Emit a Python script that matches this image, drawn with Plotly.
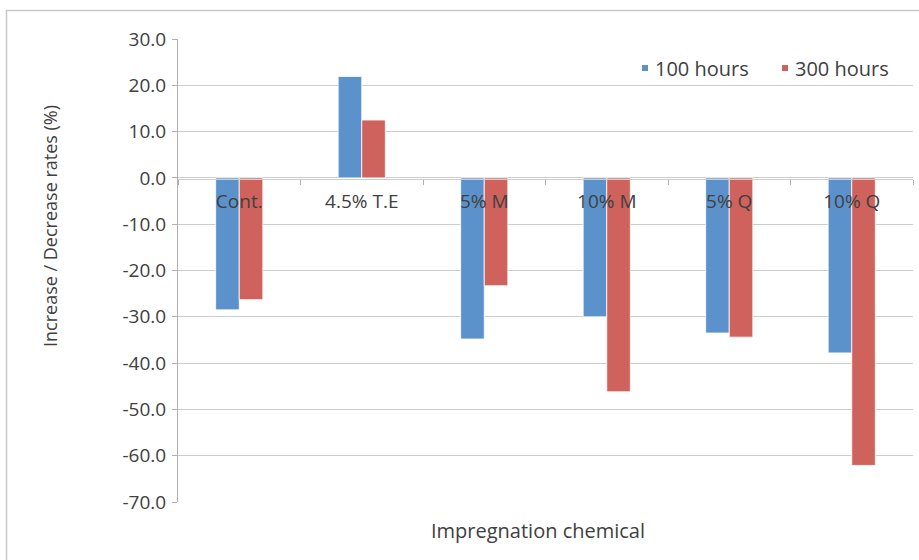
import plotly.graph_objects as go

# Impregnation treatments and the measured change after each exposure time (%)
categories = ["Cont.", "4.5% T.E", "5% M", "10% M", "5% Q", "10% Q"]
hours_100 = [-28.5, 21.9, -34.8, -30.0, -33.5, -37.8]
hours_300 = [-26.3, 12.5, -23.3, -46.2, -34.4, -62.1]
series_names = ["100 hours", "300 hours"]
y_ticks = [30, 20, 10, 0, -10, -20, -30, -40, -50, -60, -70]

BLUE = "#5B92CB"
RED = "#CF625C"
TEXT = "#404040"
GRID = "#CDCDCD"
TICK = "#B0B0B0"
FONT = "Open Sans"
colors = [BLUE, RED]

fig = go.Figure()
for name, vals, col in zip(series_names, [hours_100, hours_300], colors):
    fig.add_trace(go.Bar(
        x=categories, y=vals, name=name, showlegend=False,
        marker=dict(color=col, line=dict(color="rgba(255,255,255,0.8)", width=1)),
    ))

# plot-area geometry (px) used to place the legend keys and titles
W, H = 919, 560
L, R, T, B = 178, 6, 39, 58
pw, ph = W - L - R, H - T - B


def px_x(x):
    return (x - L) / pw


def px_y(y):
    return (H - B - y) / ph


# legend: small square keys followed by the series names
legend_x = [642, 782]
legend_y = 68
shapes = []
annotations = []
for name, col, lx in zip(series_names, colors, legend_x):
    shapes.append(dict(type="rect", xref="paper", yref="paper",
                       x0=px_x(lx), x1=px_x(lx + 6), y0=px_y(legend_y + 3), y1=px_y(legend_y - 3),
                       fillcolor=col, line=dict(width=0)))
    annotations.append(dict(text=name, xref="paper", yref="paper",
                            x=px_x(lx + 11), y=px_y(legend_y), xanchor="left", yanchor="middle",
                            showarrow=False, font=dict(size=20, color=TEXT)))

annotations += [
    dict(text="Increase / Decrease rates (%)", textangle=-90,
         xref="paper", yref="paper", x=px_x(50), y=px_y(226), xanchor="center", yanchor="middle",
         showarrow=False, font=dict(size=18, color=TEXT)),
    dict(text="Impregnation chemical",
         xref="paper", yref="paper", x=px_x(538), y=px_y(530), xanchor="center", yanchor="middle",
         showarrow=False, font=dict(size=20, color=TEXT)),
]

# outer chart frame
shapes.append(dict(type="rect", xref="paper", yref="paper",
                   x0=px_x(6.5), x1=px_x(W + 20), y0=px_y(H + 20), y1=px_y(10.5),
                   line=dict(color="#C8C8C8", width=1.5), fillcolor="rgba(0,0,0,0)", layer="below"))

zero_pos = px_y(178.5)
fig.update_layout(
    width=W, height=H,
    margin=dict(l=L, r=R, t=T, b=B),
    paper_bgcolor="white", plot_bgcolor="white",
    barmode="group", bargap=0.615, bargroupgap=0,
    font=dict(family=FONT, color=TEXT, size=18),
    showlegend=False,
    xaxis=dict(
        type="category", anchor="free", position=zero_pos,
        showline=True, linecolor=GRID, linewidth=1,
        ticks="outside", ticklen=5, tickcolor=TICK, tickson="boundaries",
        tickfont=dict(size=19, color=TEXT), ticklabelstandoff=6,
        showgrid=False,
    ),
    # same category axis again, carrying the upward half of the boundary ticks
    xaxis2=dict(
        type="category", matches="x", overlaying="x", anchor="free", position=zero_pos,
        side="bottom", showline=False, showticklabels=False,
        ticks="inside", ticklen=5, tickcolor=TICK, tickson="boundaries",
        showgrid=False,
    ),
    yaxis=dict(
        range=[-70, 30], tickvals=y_ticks, ticktext=[f"{v:.1f}" for v in y_ticks],
        showgrid=True, gridcolor=GRID, gridwidth=1,
        zeroline=False,
        showline=True, linecolor=TICK, linewidth=1,
        ticks="outside", ticklen=5, tickcolor=TICK,
        tickfont=dict(size=19, color=TEXT), ticklabelstandoff=2,
    ),
    annotations=annotations,
    shapes=shapes,
)

fig.write_html("out.html")
